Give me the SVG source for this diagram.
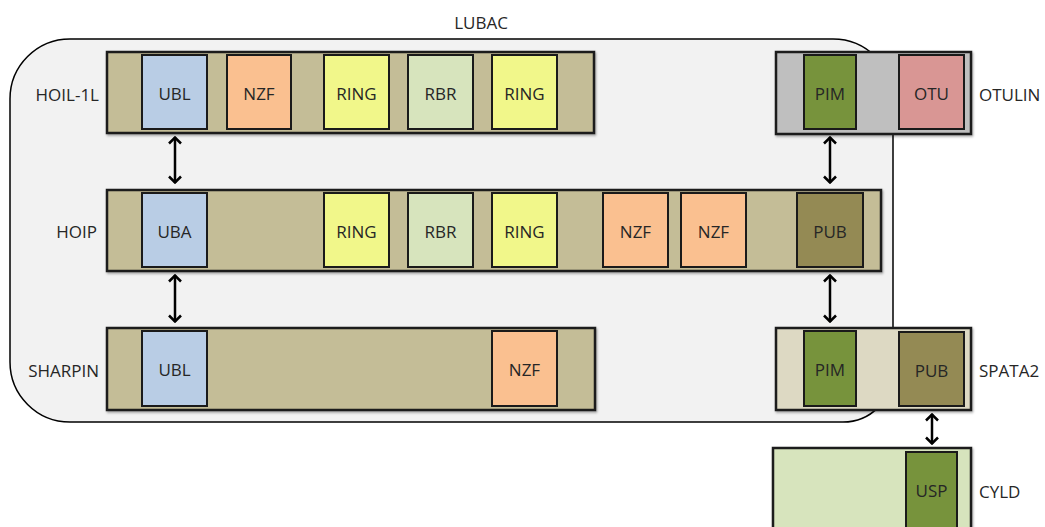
<svg xmlns="http://www.w3.org/2000/svg" width="1045" height="527" viewBox="0 0 1045 527">
<defs>
<style>
text{font-family:"Open Sans","Liberation Sans",sans-serif;font-size:17px;fill:#262626;dominant-baseline:central}
.bar{stroke:#1a1a1a;stroke-width:2.5}
.dom{stroke:#1a1a1a;stroke-width:2}
.c{text-anchor:middle}
.r{text-anchor:end}
.conn{stroke:#000;stroke-width:2.5;fill:none;marker-start:url(#ah);marker-end:url(#ah)}
</style>
<marker id="ah" viewBox="0 0 9 14" refX="8" refY="7" markerWidth="9" markerHeight="14" orient="auto-start-reverse" markerUnits="userSpaceOnUse">
<path d="M1.5,1 L7.5,7 L1.5,13" fill="none" stroke="#000" stroke-width="2.5"/>
</marker>
<filter id="sh" x="-5%" y="-10%" width="110%" height="130%">
<feDropShadow dx="1" dy="1.5" stdDeviation="1" flood-opacity="0.35"/>
</filter>
</defs>
<rect width="1045" height="527" fill="#fff"/>

<g id="lubac">
<path d="M70,39 H833 A60,60 0 0 1 893,99 V372 A50,50 0 0 1 843,422 H70 A60,60 0 0 1 10,362 V99 A60,60 0 0 1 70,39 Z" fill="#f2f2f2" stroke="#000" stroke-width="1.5"/>
<text class="c" x="481" y="22">LUBAC</text>
</g>

<g id="hoil1l">
<rect class="bar" x="107" y="52" width="487" height="81" fill="#c4bd97" filter="url(#sh)"/>
<rect class="dom" x="142" y="55" width="65" height="74" fill="#b9cde5"/>
<text class="c" x="174.5" y="93">UBL</text>
<rect class="dom" x="227" y="55" width="64" height="74" fill="#fac090"/>
<text class="c" x="259" y="93">NZF</text>
<rect class="dom" x="324" y="55" width="65" height="74" fill="#f1f78a"/>
<text class="c" x="356.5" y="93">RING</text>
<rect class="dom" x="408" y="55" width="65" height="74" fill="#d7e4bd"/>
<text class="c" x="440.5" y="93">RBR</text>
<rect class="dom" x="492" y="55" width="65" height="74" fill="#f1f78a"/>
<text class="c" x="524.5" y="93">RING</text>
<text class="r" x="99" y="94">HOIL-1L</text>
</g>

<g id="hoip">
<rect class="bar" x="107" y="190" width="774" height="81" fill="#c4bd97" filter="url(#sh)"/>
<rect class="dom" x="142" y="193" width="65" height="74" fill="#b9cde5"/>
<text class="c" x="174.5" y="231">UBA</text>
<rect class="dom" x="324" y="193" width="65" height="74" fill="#f1f78a"/>
<text class="c" x="356.5" y="231">RING</text>
<rect class="dom" x="408" y="193" width="65" height="74" fill="#d7e4bd"/>
<text class="c" x="440.5" y="231">RBR</text>
<rect class="dom" x="492" y="193" width="65" height="74" fill="#f1f78a"/>
<text class="c" x="524.5" y="231">RING</text>
<rect class="dom" x="603" y="193" width="65" height="74" fill="#fac090"/>
<text class="c" x="635.5" y="231">NZF</text>
<rect class="dom" x="681" y="193" width="65" height="74" fill="#fac090"/>
<text class="c" x="713.5" y="231">NZF</text>
<rect class="dom" x="797" y="193" width="66" height="74" fill="#948a54"/>
<text class="c" x="830" y="231">PUB</text>
<text class="r" x="97" y="231">HOIP</text>
</g>

<g id="sharpin">
<rect class="bar" x="107" y="328" width="488" height="82" fill="#c4bd97" filter="url(#sh)"/>
<rect class="dom" x="142" y="331" width="65" height="75" fill="#b9cde5"/>
<text class="c" x="174.5" y="369">UBL</text>
<rect class="dom" x="492" y="331" width="65" height="75" fill="#fac090"/>
<text class="c" x="524.5" y="369">NZF</text>
<text class="r" x="99" y="370">SHARPIN</text>
</g>

<g id="otulin">
<rect class="bar" x="776" y="52" width="195" height="82" fill="#bfbfbf" filter="url(#sh)"/>
<rect class="dom" x="804" y="55" width="52" height="74" fill="#77933c"/>
<text class="c" x="830" y="93">PIM</text>
<rect class="dom" x="899" y="55" width="65" height="74" fill="#d99694"/>
<text class="c" x="931.5" y="93">OTU</text>
<text x="979" y="94">OTULIN</text>
</g>

<g id="spata2">
<rect class="bar" x="776" y="328" width="195" height="82" fill="#ddd9c3" filter="url(#sh)"/>
<rect class="dom" x="804" y="331" width="52" height="75" fill="#77933c"/>
<text class="c" x="830" y="369">PIM</text>
<rect class="dom" x="899" y="332" width="65" height="74" fill="#948a54"/>
<text class="c" x="931.5" y="370">PUB</text>
<text x="979" y="370">SPATA2</text>
</g>

<g id="cyld">
<rect class="bar" x="773" y="448" width="198" height="90" fill="#d7e4bd" filter="url(#sh)"/>
<rect class="dom" x="906" y="452" width="51" height="86" fill="#77933c"/>
<text class="c" x="931.5" y="490">USP</text>
<text x="979" y="491">CYLD</text>
</g>

<g id="connectors">
<line class="conn" x1="175" y1="137" x2="175" y2="183"/>
<line class="conn" x1="175" y1="275" x2="175" y2="322"/>
<line class="conn" x1="830" y1="137" x2="830" y2="183"/>
<line class="conn" x1="830" y1="275" x2="830" y2="322"/>
<line class="conn" x1="932" y1="414" x2="932" y2="444"/>
</g>
</svg>
